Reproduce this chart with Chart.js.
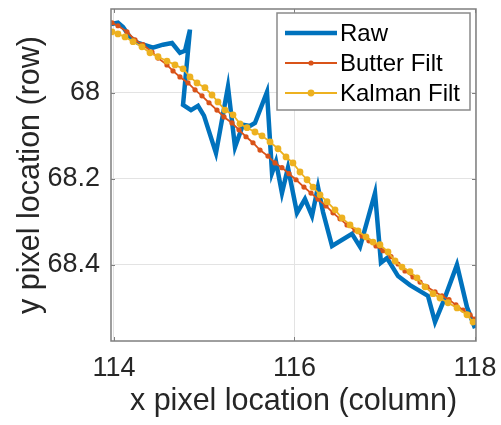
<!DOCTYPE html>
<html>
<head>
<meta charset="utf-8">
<script src="https://cdn.jsdelivr.net/npm/chart.js@4.4.1/dist/chart.umd.min.js"></script>
<style>
  html, body { margin: 0; padding: 0; background: #fff; }
  #wrap { width: 501px; height: 425px; }
</style>
</head>
<body>
<div id="wrap"><canvas id="chart" width="501" height="425"></canvas></div>
<script>
// pixel track of the object
const rawX = [113.967, 114.044, 114.100, 114.177, 114.266, 114.432, 114.543, 114.643, 114.731, 114.787,
  114.842, 114.765, 114.853, 114.931, 114.997, 115.130, 115.263, 115.341, 115.429, 115.507,
  115.562, 115.695, 115.751, 115.795, 115.861, 115.928, 116.028, 116.116, 116.194, 116.260,
  116.316, 116.416, 116.637, 116.726, 116.892, 116.958, 117.025, 117.147, 117.280, 117.479,
  117.557, 117.645, 117.800, 117.911, 118.000];
const rawY = [67.840, 67.837, 67.847, 67.870, 67.884, 67.895, 67.888, 67.884, 67.907, 67.902,
  67.853, 68.028, 68.040, 68.030, 68.053, 68.140, 67.986, 68.126, 68.074, 68.077,
  68.070, 67.998, 68.186, 68.160, 68.233, 68.174, 68.279, 68.247, 68.286, 68.219,
  68.277, 68.356, 68.328, 68.358, 68.233, 68.395, 68.384, 68.426, 68.447, 68.472,
  68.533, 68.488, 68.400, 68.498, 68.547];

const butterX = [113.978, 114.044, 114.144, 114.233, 114.321, 114.421, 114.488, 114.587, 114.654, 114.731,
  114.820, 114.898, 114.975, 115.053, 115.141, 115.219, 115.307, 115.385, 115.463, 115.540,
  115.618, 115.706, 115.784, 115.861, 115.939, 116.017, 116.105, 116.183, 116.260, 116.349,
  116.427, 116.504, 116.582, 116.670, 116.748, 116.825, 116.903, 116.981, 117.069, 117.147,
  117.224, 117.313, 117.391, 117.468, 117.557, 117.634, 117.712, 117.789, 117.867, 117.945, 118.000];
const butterY = [67.837, 67.844, 67.858, 67.877, 67.888, 67.905, 67.919, 67.935, 67.949, 67.963,
  67.977, 67.993, 68.007, 68.023, 68.040, 68.056, 68.070, 68.086, 68.102, 68.116,
  68.133, 68.147, 68.163, 68.174, 68.188, 68.202, 68.219, 68.233, 68.247, 68.263,
  68.279, 68.293, 68.307, 68.319, 68.333, 68.344, 68.356, 68.367, 68.381, 68.398,
  68.414, 68.428, 68.440, 68.451, 68.463, 68.472, 68.481, 68.493, 68.505, 68.516, 68.526];

const kalmanX = [113.978, 114.044, 114.122, 114.211, 114.310, 114.399, 114.488, 114.587, 114.676, 114.765,
  114.842, 114.920, 115.008, 115.086, 115.152, 115.230, 115.319, 115.396, 115.474, 115.562,
  115.640, 115.729, 115.817, 115.906, 115.983, 116.061, 116.139, 116.205, 116.283, 116.360,
  116.449, 116.526, 116.615, 116.704, 116.792, 116.870, 116.947, 117.036, 117.114, 117.191,
  117.280, 117.357, 117.446, 117.535, 117.612, 117.701, 117.801, 117.911, 117.978];
const kalmanY = [67.858, 67.863, 67.870, 67.881, 67.893, 67.907, 67.916, 67.926, 67.935, 67.944,
  67.963, 67.977, 67.988, 68.005, 68.021, 68.040, 68.051, 68.072, 68.081, 68.091,
  68.100, 68.114, 68.130, 68.149, 68.163, 68.184, 68.202, 68.219, 68.237, 68.253,
  68.272, 68.291, 68.307, 68.321, 68.335, 68.347, 68.353, 68.370, 68.391, 68.405,
  68.416, 68.430, 68.451, 68.467, 68.477, 68.488, 68.500, 68.516, 68.533];

const seriesNames = ["Raw", "Butter Filt", "Kalman Filt"];
const xTicks = [114, 116, 118];
const yTicks = [68, 68.2, 68.4];
const xRange = [113.967, 118.011];
const yRange = [67.805, 68.577];

const AXIS_COLOR = "#7f7f7f";
const TEXT_COLOR = "#262626";
const FONT = "'Liberation Sans', Arial, Helvetica, sans-serif";

function toPoints(xs, ys) {
  return xs.map((x, i) => ({ x, y: ys[i] }));
}

// box round the axes, inward ticks and the MATLAB-like legend
const framePlugin = {
  id: "frame",
  afterDatasetsDraw(chart) {
    const { ctx, chartArea: a, scales } = chart;
    ctx.save();
    ctx.strokeStyle = AXIS_COLOR;
    ctx.lineWidth = 1.5;
    ctx.strokeRect(a.left, a.top, a.right - a.left, a.bottom - a.top);
    ctx.lineWidth = 1;
    ctx.beginPath();
    xTicks.forEach((v) => {
      const px = Math.round(scales.x.getPixelForValue(v)) + 0.5;
      ctx.moveTo(px, a.bottom); ctx.lineTo(px, a.bottom - 4);
      ctx.moveTo(px, a.top); ctx.lineTo(px, a.top + 4);
    });
    yTicks.forEach((v) => {
      const py = Math.round(scales.y.getPixelForValue(v)) + 0.5;
      ctx.moveTo(a.left, py); ctx.lineTo(a.left + 4, py);
      ctx.moveTo(a.right, py); ctx.lineTo(a.right - 4, py);
    });
    ctx.stroke();
    ctx.restore();
  },
  afterDraw(chart) {
    const { ctx, chartArea: a } = chart;
    const box = { left: a.right - 199, top: a.top + 4, w: 193, h: 97 };
    ctx.save();
    ctx.fillStyle = "#fff";
    ctx.fillRect(box.left, box.top, box.w, box.h);
    ctx.strokeStyle = "#8a8a8a";
    ctx.lineWidth = 1.5;
    ctx.strokeRect(box.left, box.top, box.w, box.h);
    ctx.font = `24px ${FONT}`;
    ctx.textBaseline = "middle";
    ctx.textAlign = "left";
    chart.data.datasets.forEach((ds, i) => {
      const y = box.top + 20 + i * 30;
      const x0 = box.left + 8;
      const x1 = box.left + 60;
      ctx.strokeStyle = ds.borderColor;
      ctx.lineWidth = ds.borderWidth;
      ctx.beginPath();
      ctx.moveTo(x0, y);
      ctx.lineTo(x1, y);
      ctx.stroke();
      if (ds.pointRadius > 0) {
        ctx.fillStyle = ds.borderColor;
        ctx.beginPath();
        ctx.arc((x0 + x1) / 2, y, ds.pointRadius, 0, Math.PI * 2);
        ctx.fill();
      }
      ctx.fillStyle = "#000";
      ctx.fillText(ds.label, box.left + 63, y + 1);
    });
    ctx.restore();
  },
};

const ctx = document.getElementById("chart").getContext("2d");
new Chart(ctx, {
  type: "line",
  data: {
    datasets: [
      {
        label: seriesNames[0],
        data: toPoints(rawX, rawY),
        borderColor: "#0072BD",
        backgroundColor: "#0072BD",
        borderWidth: 4.5,
        pointRadius: 0,
        tension: 0,
        order: 3,
      },
      {
        label: seriesNames[1],
        data: toPoints(butterX, butterY),
        borderColor: "#D95319",
        backgroundColor: "#D95319",
        borderWidth: 1.8,
        pointRadius: 2.6,
        pointBorderWidth: 0,
        tension: 0,
        order: 2,
      },
      {
        label: seriesNames[2],
        data: toPoints(kalmanX, kalmanY),
        borderColor: "#EDB120",
        backgroundColor: "#EDB120",
        borderWidth: 1.8,
        pointRadius: 3.4,
        pointBorderWidth: 0,
        tension: 0,
        order: 1,
      },
    ],
  },
  options: {
    responsive: false,
    animation: false,
    devicePixelRatio: 1,
    layout: { padding: { top: 9, right: 25, left: 0, bottom: 0 } },
    plugins: {
      legend: { display: false },
      tooltip: { enabled: false },
    },
    scales: {
      x: {
        type: "linear",
        min: xRange[0],
        max: xRange[1],
        afterBuildTicks: (s) => { s.ticks = xTicks.map((v) => ({ value: v })); },
        afterFit: (s) => { s.height = 84; s.paddingLeft = 0; s.paddingRight = 0; },
        grid: { color: "#e3e3e3", lineWidth: 1, drawTicks: false },
        border: { display: false },
        ticks: {
          padding: 11,
          maxRotation: 0,
          color: TEXT_COLOR,
          font: { family: FONT, size: 27 },
          callback: (v) => String(v),
        },
        title: {
          display: true,
          text: "x pixel location (column)",
          color: TEXT_COLOR,
          font: { family: FONT, size: 30.5, lineHeight: 1 },
          padding: { top: 0, bottom: 8 },
        },
      },
      y: {
        type: "linear",
        reverse: true,
        min: yRange[0],
        max: yRange[1],
        afterBuildTicks: (s) => { s.ticks = yTicks.map((v) => ({ value: v })); },
        afterFit: (s) => { s.width = 111; s.paddingTop = 0; s.paddingBottom = 0; },
        grid: { color: "#e3e3e3", lineWidth: 1, drawTicks: false },
        border: { display: false },
        ticks: {
          padding: 11,
          color: TEXT_COLOR,
          font: { family: FONT, size: 27 },
          callback: (v) => String(v),
        },
        title: {
          display: true,
          text: "y pixel location (row)",
          color: TEXT_COLOR,
          font: { family: FONT, size: 30.5, lineHeight: 1 },
          padding: { top: 15, bottom: 0 },
        },
      },
    },
  },
  plugins: [framePlugin],
});
</script>
</body>
</html>
